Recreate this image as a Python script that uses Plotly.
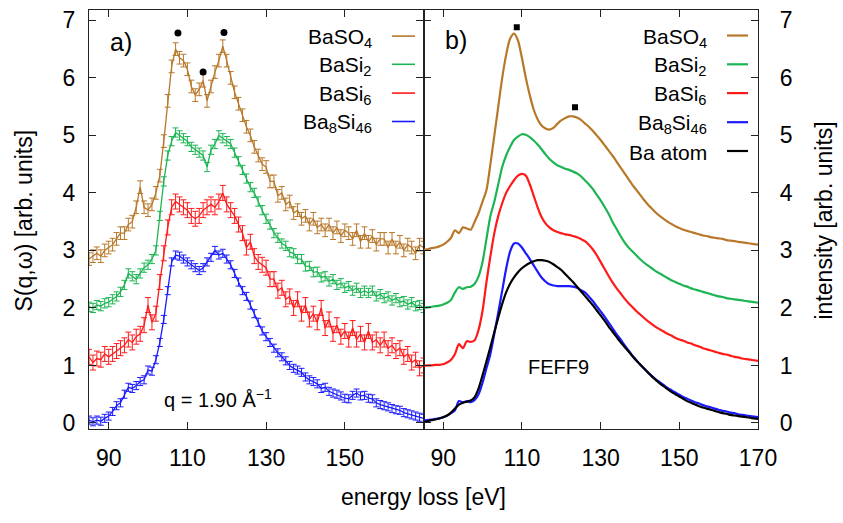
import plotly.graph_objects as go

# ---------------- data ----------------
energy = list(range(85, 171))  # eV, 1 eV grid

# panel a) experiment
exp_baso4 = [2.85, 2.9, 2.95, 2.9, 3.0, 3.05, 3.1, 3.2, 3.3, 3.3, 3.45, 3.5, 3.75, 4.1, 3.75, 3.7, 3.8, 4.0, 4.3, 4.9,
             5.6, 6.2, 6.5, 6.35, 6.3, 6.15, 5.85, 5.7, 5.8, 5.95, 5.6, 5.85, 6.1, 6.3, 6.55, 6.3, 6.0, 5.75, 5.55, 5.35,
             5.15, 5.0, 4.8, 4.65, 4.5, 4.45, 4.2, 4.2, 3.95, 4.0, 3.8, 3.85, 3.65, 3.7, 3.55, 3.6, 3.45, 3.55, 3.4, 3.45,
             3.35, 3.45, 3.3, 3.4, 3.25, 3.35, 3.3, 3.2, 3.35, 3.15, 3.3, 3.15, 3.25, 3.1, 3.2, 3.2, 3.05, 3.2, 3.05, 3.15,
             3.0, 3.1, 3.05, 2.95, 3.1, 3.05]
exp_basi2 = [2.02, 2.0, 2.05, 2.03, 2.08, 2.1, 2.15, 2.2, 2.28, 2.4, 2.6, 2.55, 2.5, 2.6, 2.7, 2.75, 2.85, 3.0, 3.6, 4.2,
             4.65, 4.9, 5.05, 5.0, 4.95, 4.9, 4.8, 4.75, 4.7, 4.65, 4.45, 4.75, 4.85, 5.0, 4.95, 4.9, 4.85, 4.7, 4.55, 4.4,
             4.25, 4.1, 4.0, 3.85, 3.7, 3.55, 3.45, 3.3, 3.22, 3.12, 3.08, 2.97, 2.95, 2.85, 2.85, 2.72, 2.73, 2.62, 2.63, 2.53,
             2.55, 2.46, 2.5, 2.4, 2.43, 2.35, 2.38, 2.3, 2.35, 2.26, 2.3, 2.26, 2.3, 2.2, 2.24, 2.17, 2.2, 2.13, 2.17, 2.1,
             2.12, 2.06, 2.1, 2.03, 2.05, 2.0]
exp_basi6 = [1.15, 1.05, 1.12, 1.1, 1.2, 1.15, 1.2, 1.25, 1.3, 1.35, 1.45, 1.4, 1.5, 1.55, 1.7, 2.05, 1.75, 1.9, 2.45, 2.95,
             3.4, 3.75, 3.85, 3.8, 3.75, 3.7, 3.6, 3.55, 3.6, 3.7, 3.75, 3.8, 3.75, 3.85, 4.0, 3.8, 3.7, 3.6, 3.45, 3.3,
             3.05, 3.15, 2.9, 2.8, 2.75, 2.7, 2.5, 2.5, 2.3, 2.35, 2.15, 2.2, 2.0, 2.15, 1.9, 2.05, 1.8, 1.9, 1.75, 2.0,
             1.65, 1.8, 1.55, 1.7, 1.5, 1.6, 1.45, 1.65, 1.45, 1.55, 1.4, 1.6, 1.4, 1.45, 1.35, 1.45, 1.3, 1.35, 1.25, 1.3,
             1.15, 1.2, 1.05, 1.1, 0.95, 1.0]
exp_ba8si46 = [0.05, 0.02, 0.05, 0.03, 0.08, 0.12, 0.2, 0.3, 0.35, 0.5, 0.62, 0.6, 0.65, 0.72, 0.75, 0.92, 0.9, 1.1, 1.4, 1.8,
               2.3, 2.8, 2.92, 2.9, 2.85, 2.8, 2.75, 2.7, 2.65, 2.7, 2.8, 2.88, 3.0, 2.92, 2.95, 2.85, 2.75, 2.6, 2.45, 2.3,
               2.2, 2.05, 1.9, 1.75, 1.6, 1.5, 1.4, 1.3, 1.22, 1.15, 1.08, 1.0, 0.95, 0.92, 0.88, 0.8, 0.75, 0.72, 0.68, 0.6,
               0.62, 0.55, 0.52, 0.5, 0.47, 0.43, 0.42, 0.48, 0.52, 0.47, 0.48, 0.43, 0.42, 0.35, 0.32, 0.3, 0.28, 0.25, 0.23, 0.22,
               0.18, 0.16, 0.14, 0.12, 0.1, 0.08]
err_baso4 = 0.11
err_basi2 = 0.08
err_basi6 = 0.13
err_ba8si46 = 0.07

# panel b) FEFF9 theory
th_baso4 = [3.01, 3.02, 3.04, 3.05, 3.07, 3.1, 3.15, 3.22, 3.35, 3.3, 3.4, 3.38, 3.36, 3.5, 3.65, 3.85, 4.05, 4.5, 5.0, 5.5,
            6.0, 6.4, 6.68, 6.77, 6.65, 6.35, 6.0, 5.7, 5.45, 5.28, 5.17, 5.12, 5.1, 5.13, 5.2, 5.26, 5.3, 5.33, 5.33, 5.31,
            5.27, 5.21, 5.15, 5.08, 5.0, 4.92, 4.83, 4.74, 4.65, 4.55, 4.45, 4.35, 4.25, 4.15, 4.06, 3.97, 3.88, 3.8, 3.73, 3.66,
            3.6, 3.55, 3.5, 3.46, 3.42, 3.39, 3.36, 3.34, 3.32, 3.3, 3.28, 3.26, 3.25, 3.23, 3.22, 3.21, 3.2, 3.18, 3.17, 3.16,
            3.15, 3.14, 3.13, 3.12, 3.11, 3.1]
th_basi2 = [2.0, 2.01, 2.02, 2.03, 2.04, 2.06, 2.09, 2.14, 2.27, 2.36, 2.33, 2.36, 2.37, 2.42, 2.55, 2.8, 3.2, 3.6, 3.85, 4.15,
            4.45, 4.65, 4.8, 4.92, 4.98, 5.02, 5.01, 4.97, 4.91, 4.84, 4.76, 4.67, 4.59, 4.53, 4.48, 4.45, 4.42, 4.4, 4.37, 4.34,
            4.29, 4.22, 4.15, 4.07, 3.97, 3.87, 3.76, 3.64, 3.5, 3.38, 3.26, 3.15, 3.06, 2.99, 2.92, 2.85, 2.79, 2.74, 2.69, 2.64,
            2.6, 2.56, 2.52, 2.48, 2.45, 2.42, 2.39, 2.37, 2.34, 2.32, 2.3, 2.28, 2.26, 2.24, 2.22, 2.2, 2.19, 2.17, 2.16, 2.15,
            2.14, 2.13, 2.12, 2.11, 2.1, 2.09]
th_basi6 = [0.99, 1.0, 1.0, 1.01, 1.01, 1.02, 1.05, 1.1, 1.2, 1.37, 1.3, 1.42, 1.41, 1.44, 1.62, 1.95, 2.45, 2.9, 3.3, 3.6,
            3.82, 4.0, 4.12, 4.22, 4.3, 4.33, 4.3, 4.15, 3.95, 3.75, 3.58, 3.47, 3.4, 3.35, 3.32, 3.3, 3.28, 3.27, 3.25, 3.23,
            3.2, 3.16, 3.1, 3.02, 2.92, 2.8, 2.68, 2.56, 2.45, 2.35, 2.26, 2.17, 2.09, 2.02, 1.95, 1.89, 1.83, 1.77, 1.72, 1.67,
            1.63, 1.59, 1.55, 1.52, 1.48, 1.45, 1.43, 1.4, 1.38, 1.35, 1.33, 1.3, 1.28, 1.26, 1.24, 1.22, 1.2, 1.19, 1.17, 1.15,
            1.14, 1.12, 1.11, 1.1, 1.09, 1.08]
th_ba8si46 = [0.04, 0.05, 0.06, 0.07, 0.08, 0.1, 0.13, 0.17, 0.22, 0.38, 0.36, 0.38, 0.36, 0.4, 0.5, 0.7, 0.95, 1.2, 1.55, 1.92,
              2.3, 2.68, 2.98, 3.12, 3.12, 3.05, 2.95, 2.85, 2.74, 2.63, 2.53, 2.46, 2.41, 2.39, 2.38, 2.38, 2.38, 2.38, 2.37, 2.35,
              2.31, 2.27, 2.2, 2.12, 2.03, 1.94, 1.85, 1.75, 1.65, 1.55, 1.46, 1.36, 1.27, 1.18, 1.1, 1.02, 0.95, 0.88, 0.82, 0.76,
              0.71, 0.66, 0.61, 0.57, 0.53, 0.49, 0.45, 0.42, 0.39, 0.36, 0.34, 0.31, 0.29, 0.27, 0.25, 0.23, 0.21, 0.2, 0.18, 0.17,
              0.15, 0.14, 0.13, 0.12, 0.11, 0.1]
th_ba_atom = [0.02, 0.03, 0.05, 0.06, 0.08, 0.1, 0.13, 0.18, 0.25, 0.32, 0.35, 0.37, 0.39, 0.45, 0.6, 0.83, 1.07, 1.32, 1.58, 1.83,
              2.07, 2.27, 2.42, 2.53, 2.62, 2.69, 2.74, 2.78, 2.81, 2.83, 2.83, 2.82, 2.8, 2.76, 2.71, 2.66, 2.59, 2.52, 2.45, 2.37,
              2.29, 2.21, 2.13, 2.05, 1.96, 1.87, 1.78, 1.68, 1.59, 1.5, 1.41, 1.33, 1.25, 1.17, 1.09, 1.02, 0.95, 0.88, 0.81, 0.75,
              0.69, 0.64, 0.59, 0.54, 0.5, 0.46, 0.42, 0.38, 0.35, 0.32, 0.29, 0.27, 0.25, 0.23, 0.21, 0.19, 0.17, 0.16, 0.14, 0.13,
              0.12, 0.11, 0.1, 0.09, 0.08, 0.07]

# peak markers
exp_peak_x = [107.6, 114.0, 119.3]
exp_peak_y = [6.78, 6.1, 6.79]
th_peak_x = [108.7, 123.5]
th_peak_y = [6.88, 5.49]

x_ticks_a = [90, 110, 130, 150]
x_ticks_b = [90, 110, 130, 150, 170]
y_ticks = [0, 1, 2, 3, 4, 5, 6, 7]

names = ["BaSO<sub>4</sub>", "BaSi<sub>2</sub>", "BaSi<sub>6</sub>", "Ba<sub>8</sub>Si<sub>46</sub>", "Ba atom"]
colors = ["#b8782a", "#1db553", "#ff1a1a", "#1a1aff", "#000000"]

FONT = "Liberation Sans, Arial, sans-serif"

fig = go.Figure()

exp_series = [(exp_baso4, err_baso4), (exp_basi2, err_basi2), (exp_basi6, err_basi6), (exp_ba8si46, err_ba8si46)]
for i, (vals, err) in enumerate(exp_series):
    fig.add_trace(go.Scatter(
        x=energy, y=vals, mode="lines", xaxis="x", yaxis="y",
        line=dict(color=colors[i], width=1.3),
        error_y=dict(type="constant", value=err, color=colors[i], thickness=1, width=3),
        showlegend=False, hoverinfo="skip"))

th_series = [th_baso4, th_basi2, th_basi6, th_ba8si46, th_ba_atom]
for i, vals in enumerate(th_series):
    fig.add_trace(go.Scatter(
        x=energy, y=vals, mode="lines", xaxis="x2", yaxis="y2",
        line=dict(color=colors[i], width=2.2, shape="spline", smoothing=0.8),
        showlegend=False, hoverinfo="skip"))

fig.add_trace(go.Scatter(x=exp_peak_x, y=exp_peak_y, mode="markers", xaxis="x", yaxis="y",
                         marker=dict(symbol="circle", size=7, color="black"), showlegend=False))
fig.add_trace(go.Scatter(x=th_peak_x, y=th_peak_y, mode="markers", xaxis="x2", yaxis="y2",
                         marker=dict(symbol="square", size=6, color="black"), showlegend=False))

axis_common = dict(showline=True, linecolor="#222", linewidth=1.2, mirror="ticks", ticks="inside",
                   ticklen=7, tickwidth=1.2, tickcolor="#222", showgrid=False, zeroline=False,
                   tickfont=dict(family=FONT, size=23, color="black"))

fig.update_layout(
    width=843, height=523,
    margin=dict(l=89, r=85, t=7, b=94),
    paper_bgcolor="white", plot_bgcolor="white",
    xaxis=dict(domain=[0, 0.5], range=[85, 170], tickvals=x_ticks_a, anchor="y",
               ticklabelstandoff=8, **axis_common),
    xaxis2=dict(domain=[0.5, 1], range=[85, 170], tickvals=x_ticks_b, anchor="y2",
                ticklabelstandoff=8, **axis_common),
    yaxis=dict(domain=[0, 1], range=[-0.105, 7.18], tickvals=y_ticks, anchor="x",
               ticklabelstandoff=8, **axis_common),
    yaxis2=dict(domain=[0, 1], range=[-0.105, 7.18], tickvals=y_ticks, anchor="x2", side="right",
                ticklabelstandoff=16, **axis_common),
)

ann = []
def txt(x, y, s, size, xanchor="left", yanchor="middle", angle=0, xref="paper", yref="paper"):
    ann.append(dict(x=x, y=y, xref=xref, yref=yref, text=s, showarrow=False, xanchor=xanchor,
                    yanchor=yanchor, textangle=angle, font=dict(family=FONT, size=size, color="black")))

W, H = 669.0, 422.0
def px(xp):
    return (xp - 89) / W
def py(yp):
    return (429 - yp) / H

# axis titles
txt(px(423), py(497), "energy loss [eV]", 23, xanchor="center")
txt(px(24), py(219), "S(q,\u03c9) [arb. units]", 23, xanchor="center", angle=-90)
txt(px(824), py(219), "intensity [arb. units]", 23, xanchor="center", angle=-90)

# panel labels and notes
txt(px(108), py(39), "a)", 25)
txt(px(443), py(37), "b)", 25)
txt(px(162), py(398), "q = 1.90 \u00c5<sup>\u22121</sup>", 20)
txt(px(526), py(367), "FEFF9", 20)

# legends
shapes = []
leg_a_rows = [33.3, 61.7, 90.7, 119.3]
for i, r in enumerate(leg_a_rows):
    txt(px(374), py(r + 2), names[i], 21, xanchor="right")
    shapes.append(dict(type="line", xref="paper", yref="paper", x0=px(392), x1=px(415), y0=py(r), y1=py(r),
                       line=dict(color=colors[i], width=1.6)))
leg_b_rows = [32.7, 61.7, 90.7, 120.0, 149.0]
for i, r in enumerate(leg_b_rows):
    txt(px(709), py(r + 2), names[i], 21, xanchor="right")
    shapes.append(dict(type="line", xref="paper", yref="paper", x0=px(727), x1=px(748), y0=py(r), y1=py(r),
                       line=dict(color=colors[i], width=2.2)))

fig.update_layout(annotations=ann, shapes=shapes)
fig.write_html("out.html")
